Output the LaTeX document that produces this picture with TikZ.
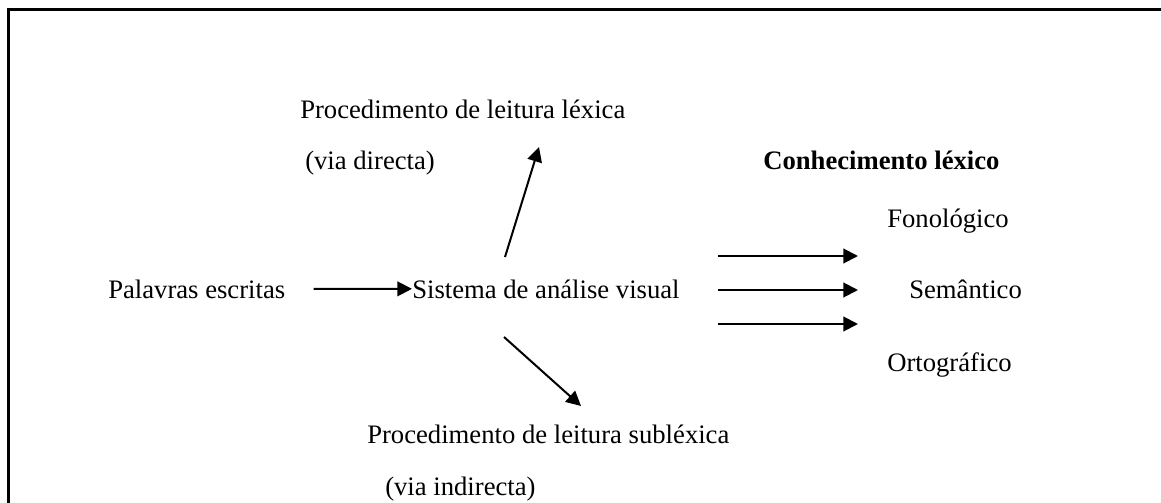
\documentclass[tikz,border=0pt]{standalone}
\usepackage{fontspec}
\setmainfont{Liberation Serif}
\usetikzlibrary{arrows.meta, positioning}
\tikzset{
>={Triangle[length=11pt, width=11pt]}, % filled triangular arrow heads
flow/.style={->, line width=1.5pt}, % the arrows between the boxes of text
frame/.style={line width=2.25pt}, % the border on top and on the left
txt/.style={inner sep=0pt, anchor=base west, font=\fontsize{20}{24}\selectfont}, % every text line
}

\begin{document}
\begin{tikzpicture}[x=0.75pt, y=-0.75pt]
                \useasboundingbox (0,0) rectangle (1161,503);
                \draw[frame] (1161,10) -- (8,10) -- (8,503);
                \node[txt] (lexica) at (300,118) {Procedimento de leitura léxica};
                \node[txt] (directa) at (305,170) {(via directa)};
                \node[txt, font=\fontsize{20}{24}\selectfont\bfseries] (conhec) at (763,170) {Conhecimento léxico};
                \node[txt] (fonol) at (887,227) {Fonológico};
                \node[txt] (palavras) at (108,298) {Palavras escritas};
                \node[txt] (sistema) at (412,298) {Sistema de análise visual};
                \node[txt] (semant) at (909,298) {Semântico};
                \node[txt] (ortog) at (887,371) {Ortográfico};
                \node[txt] (sublexica) at (367,443) {Procedimento de leitura subléxica};
                \node[txt] (indirecta) at (385,495) {(via indirecta)};
                % free ends of the arrows
                \coordinate (up0) at (505,257);
                \coordinate (up1) at (539,147);
                \coordinate (dn0) at (504,337);
                \coordinate (dn1) at (581,406);
                \coordinate (a0) at (718,256);
                \coordinate (a1) at (858,256);
                \coordinate (b0) at (718,290);
                \coordinate (b1) at (858,290);
                \coordinate (c0) at (718,324);
                \coordinate (c1) at (858,324);
                \draw[flow, shorten <=21pt] (palavras.east) -- (sistema.west);
                \draw[flow] (up0) -- (up1);
                \draw[flow] (dn0) -- (dn1);
                \draw[flow] (a0) -- (a1);
                \draw[flow] (b0) -- (b1);
                \draw[flow] (c0) -- (c1);
\end{tikzpicture}
\end{document}
